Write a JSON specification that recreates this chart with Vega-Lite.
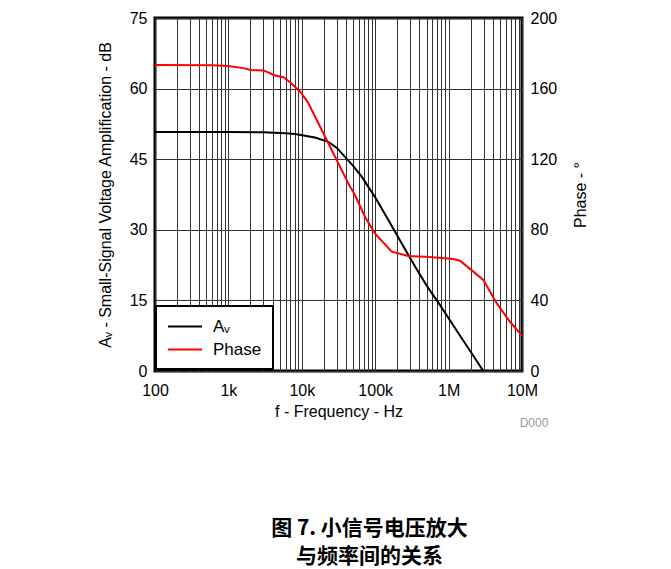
{
  "$schema": "https://vega.github.io/schema/vega-lite/v6.json",
  "autosize": {"type": "none"},
  "width": 367,
  "height": 353,
  "padding": {"left": 155, "top": 18, "right": 149, "bottom": 198},
  "background": "white",
  "config": {
    "view": {"stroke": "black", "strokeWidth": 3},
    "font": "Liberation Sans",
    "axis": {
      "labelFont": "Liberation Sans",
      "titleFont": "Liberation Sans",
      "labelFontSize": 16,
      "titleFontSize": 16,
      "labelColor": "black",
      "titleColor": "black",
      "titleFontWeight": "normal",
      "ticks": false,
      "domain": false,
      "gridColor": "#333333",
      "gridWidth": 1,
      "gridOpacity": 1
    },
    "legend": {
      "labelFont": "Liberation Sans",
      "labelFontSize": 17,
      "labelColor": "black",
      "fillColor": "white",
      "strokeColor": "black",
      "strokeWidth": 2
    }
  },
  "title": {
    "text": ["图 7. 小信号电压放大", "与频率间的关系"],
    "orient": "bottom",
    "anchor": "middle",
    "frame": "group",
    "font": "Noto Sans CJK SC",
    "fontSize": 21,
    "fontWeight": "bold",
    "lineHeight": 28,
    "color": "black",
    "dx": 31,
    "offset": 89
  },
  "datasets": {
    "curves": [
      {"f": 100, "value": 50.8, "series": "Aᵥ"},
      {"f": 1000, "value": 50.8, "series": "Aᵥ"},
      {"f": 3000, "value": 50.7, "series": "Aᵥ"},
      {"f": 6000, "value": 50.5, "series": "Aᵥ"},
      {"f": 8070, "value": 50.35, "series": "Aᵥ"},
      {"f": 15100, "value": 49.6, "series": "Aᵥ"},
      {"f": 23000, "value": 48.7, "series": "Aᵥ"},
      {"f": 30000, "value": 47.4, "series": "Aᵥ"},
      {"f": 38800, "value": 45.5, "series": "Aᵥ"},
      {"f": 50000, "value": 43.6, "series": "Aᵥ"},
      {"f": 65500, "value": 41.3, "series": "Aᵥ"},
      {"f": 99000, "value": 37.0, "series": "Aᵥ"},
      {"f": 151000, "value": 32.1, "series": "Aᵥ"},
      {"f": 230000, "value": 27.1, "series": "Aᵥ"},
      {"f": 349000, "value": 22.2, "series": "Aᵥ"},
      {"f": 500000, "value": 18.2, "series": "Aᵥ"},
      {"f": 764000, "value": 14.0, "series": "Aᵥ"},
      {"f": 1500000, "value": 7.0, "series": "Aᵥ"},
      {"f": 2000000, "value": 4.1, "series": "Aᵥ"},
      {"f": 2970000, "value": 0, "series": "Aᵥ"},
      {"f": 100, "value": 173.4, "series": "Phase"},
      {"f": 600, "value": 173.2, "series": "Phase"},
      {"f": 1000, "value": 172.8, "series": "Phase"},
      {"f": 1600, "value": 171.6, "series": "Phase"},
      {"f": 2000, "value": 170.6, "series": "Phase"},
      {"f": 3000, "value": 170.2, "series": "Phase"},
      {"f": 3500, "value": 169.2, "series": "Phase"},
      {"f": 4100, "value": 167.7, "series": "Phase"},
      {"f": 5600, "value": 166.4, "series": "Phase"},
      {"f": 7000, "value": 163.5, "series": "Phase"},
      {"f": 9500, "value": 158.2, "series": "Phase"},
      {"f": 12000, "value": 152.5, "series": "Phase"},
      {"f": 16000, "value": 142.2, "series": "Phase"},
      {"f": 23000, "value": 129.0, "series": "Phase"},
      {"f": 31400, "value": 117.7, "series": "Phase"},
      {"f": 43000, "value": 106.3, "series": "Phase"},
      {"f": 53000, "value": 99.7, "series": "Phase"},
      {"f": 72600, "value": 87.4, "series": "Phase"},
      {"f": 99000, "value": 78.0, "series": "Phase"},
      {"f": 168000, "value": 67.6, "series": "Phase"},
      {"f": 282000, "value": 65.2, "series": "Phase"},
      {"f": 476000, "value": 64.8, "series": "Phase"},
      {"f": 800000, "value": 64.0, "series": "Phase"},
      {"f": 1160000, "value": 63.5, "series": "Phase"},
      {"f": 1430000, "value": 62.5, "series": "Phase"},
      {"f": 2170000, "value": 56.3, "series": "Phase"},
      {"f": 2970000, "value": 51.6, "series": "Phase"},
      {"f": 4520000, "value": 38.4, "series": "Phase"},
      {"f": 6870000, "value": 27.9, "series": "Phase"},
      {"f": 10000000, "value": 20.0, "series": "Phase"}
    ],
    "note": [{"label": "D000", "f": 10000000, "value": -11}]
  },
  "encoding": {
    "x": {
      "field": "f",
      "type": "quantitative",
      "scale": {"type": "log", "domain": [100, 10000000]},
      "axis": {
        "title": "f - Frequency - Hz",
        "values": [100,200,300,400,500,600,700,800,900,1000,2000,3000,4000,5000,6000,7000,8000,9000,10000,20000,30000,40000,50000,60000,70000,80000,90000,100000,200000,300000,400000,500000,600000,700000,800000,900000,1000000,2000000,3000000,4000000,5000000,6000000,7000000,8000000,9000000,10000000],
        "labelExpr": "datum.value == 100 ? '100' : datum.value == 1000 ? '1k' : datum.value == 10000 ? '10k' : datum.value == 100000 ? '100k' : datum.value == 1000000 ? '1M' : datum.value == 10000000 ? '10M' : ''",
        "labelOverlap": false,
        "labelFlush": false,
        "labelBound": false,
        "labelPadding": 11,
        "titlePadding": 5,
        "grid": true
      }
    }
  },
  "layer": [
    {
      "layer": [
        {
          "data": {"name": "curves"},
          "transform": [{"filter": "datum.series == 'Aᵥ'"}],
          "mark": {"type": "line", "strokeWidth": 2, "clip": true},
          "encoding": {
            "y": {
              "field": "value",
              "type": "quantitative",
              "scale": {"domain": [0, 75], "nice": false, "zero": false},
              "axis": {
                "title": "Aᵥ - Small-Signal Voltage Amplification - dB",
                "values": [0, 15, 30, 45, 60, 75],
                "grid": true,
                "labelPadding": 8,
                "titlePadding": 16
              }
            },
            "color": {
              "field": "series",
              "type": "nominal",
              "scale": {"domain": ["Aᵥ", "Phase"], "range": ["#000000", "#ff0000"]},
              "legend": {
                "title": null,
                "orient": "none",
                "legendX": 1,
                "legendY": 288,
                "direction": "vertical",
                "symbolType": "M-1,0H3",
                "symbolSize": 289,
                "symbolStrokeWidth": 2,
                "labelOffset": 27,
                "rowPadding": 5,
                "padding": 11
              }
            }
          }
        },
        {
          "data": {"name": "note"},
          "mark": {"type": "text", "fontSize": 12, "color": "#999999", "dx": 12, "font": "Liberation Sans"},
          "encoding": {
            "y": {"field": "value", "type": "quantitative", "scale": {"domain": [0, 75], "nice": false, "zero": false}},
            "text": {"field": "label"}
          }
        }
      ]
    },
    {
      "data": {"name": "curves"},
      "transform": [{"filter": "datum.series == 'Phase'"}],
      "mark": {"type": "line", "strokeWidth": 2, "clip": true},
      "encoding": {
        "y": {
          "field": "value",
          "type": "quantitative",
          "scale": {"domain": [0, 200], "nice": false},
          "axis": {
            "title": "Phase - °",
            "orient": "right",
            "titleAngle": 270,
            "values": [0, 40, 80, 120, 160, 200],
            "grid": false,
            "labelPadding": 8,
            "titlePadding": 32
          }
        },
        "color": {"field": "series", "type": "nominal"}
      }
    }
  ],
  "resolve": {"scale": {"y": "independent"}}
}
